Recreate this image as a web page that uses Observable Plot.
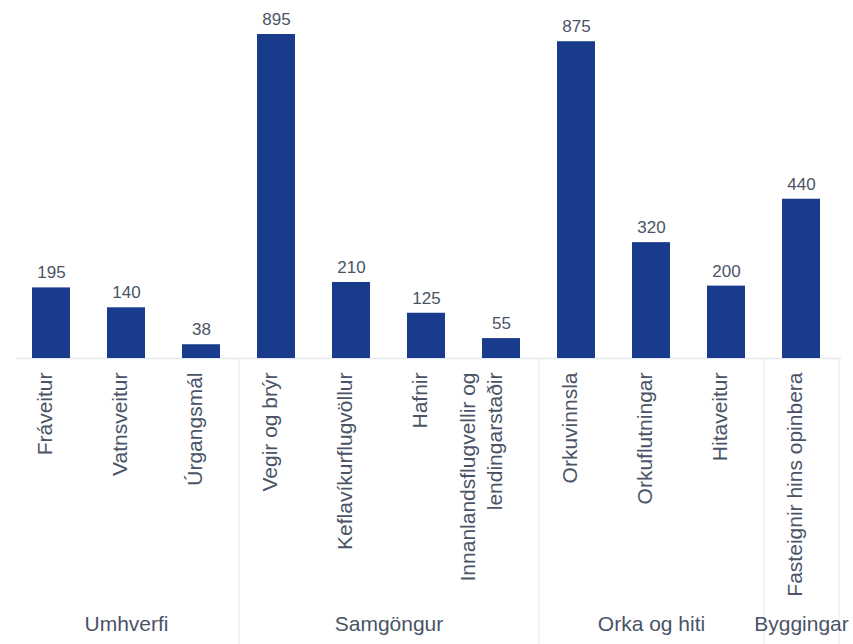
<!DOCTYPE html>
<html>
<head>
<meta charset="utf-8">
<script src="https://cdn.jsdelivr.net/npm/d3@7"></script>
<script src="https://cdn.jsdelivr.net/npm/@observablehq/plot@0.6"></script>
<style>
  html, body { margin: 0; padding: 0; background: #ffffff; }
  #chart { width: 853px; height: 644px; }
</style>
</head>
<body>
<div id="chart"></div>
<script>
// ---- Data ----
const categories = [
  "Fráveitur",
  "Vatnsveitur",
  "Úrgangsmál",
  "Vegir og brýr",
  "Keflavíkurflugvöllur",
  "Hafnir",
  "Innanlandsflugvellir og\nlendingarstaðir",
  "Orkuvinnsla",
  "Orkuflutningar",
  "Hitaveitur",
  "Fasteignir hins opinbera"
];
const values = [195, 140, 38, 895, 210, 125, 55, 875, 320, 200, 440];
const groupOf = [
  "Umhverfi", "Umhverfi", "Umhverfi",
  "Samgöngur", "Samgöngur", "Samgöngur", "Samgöngur",
  "Orka og hiti", "Orka og hiti", "Orka og hiti",
  "Byggingar"
];
const groups = ["Umhverfi", "Samgöngur", "Orka og hiti", "Byggingar"];

// ---- Derived tables ----
const data = categories.map((c, i) => ({category: c, value: values[i], group: groupOf[i]}));
const groupRows = groups.map(g => {
  const members = categories.filter((c, i) => groupOf[i] === g);
  return {name: g, first: members[0], last: members[members.length - 1]};
});
const sepRows = groupRows.map((g, k) => ({a: g.last, b: k + 1 < groupRows.length ? groupRows[k + 1].first : null}));

const barColor = "#183b8c";
const textColor = "#4a5466";
const gridColor = "#e3e7ef";

const chart = Plot.plot({
  width: 853,
  height: 644,
  marginTop: 34,
  marginBottom: 286,
  marginLeft: 10,
  marginRight: 12,
  style: {fontFamily: "'Liberation Sans', Arial, sans-serif", background: "#ffffff"},
  x: {domain: categories, paddingInner: 0.5, paddingOuter: 0.25, axis: null},
  y: {domain: [0, d3.max(values)], axis: null},
  marks: [
    // group separators from the baseline down to the bottom
    Plot.ruleX(sepRows, {
      x: "a",
      stroke: gridColor,
      strokeWidth: 1,
      render(index, scales, vals, dims, ctx, next) {
        const step = scales.x(categories[1]) - scales.x(categories[0]);
        const x = Float64Array.from(sepRows, s =>
          s.b == null ? scales.x(s.a) + step / 2 : (scales.x(s.a) + scales.x(s.b)) / 2);
        const y1 = Float64Array.from(sepRows, () => dims.height - dims.marginBottom);
        const y2 = Float64Array.from(sepRows, () => dims.height);
        return next(index, scales, {...vals, x, y1, y2}, dims, ctx);
      }
    }),
    Plot.ruleY([0], {stroke: gridColor, strokeWidth: 1.5, insetLeft: 6}),
    Plot.barY(data, {x: "category", y: "value", fill: barColor}),
    // value labels
    Plot.text(data, {
      x: "category", y: "value", text: d => String(d.value),
      dy: -15, fontSize: 17, fill: textColor
    }),
    // rotated category labels
    Plot.text(data, {
      x: "category", text: "category",
      frameAnchor: "bottom", rotate: -90, textAnchor: "end",
      dy: 14, fontSize: 21, lineHeight: 1.27, fill: textColor
    }),
    // group labels
    Plot.text(groupRows, {
      x: "first", text: "name",
      frameAnchor: "bottom", dy: 272, fontSize: 21, fill: textColor,
      render(index, scales, vals, dims, ctx, next) {
        const x = Float64Array.from(groupRows, g => (scales.x(g.first) + scales.x(g.last)) / 2);
        return next(index, scales, {...vals, x}, dims, ctx);
      }
    })
  ]
});
document.getElementById("chart").appendChild(chart);
</script>
</body>
</html>
